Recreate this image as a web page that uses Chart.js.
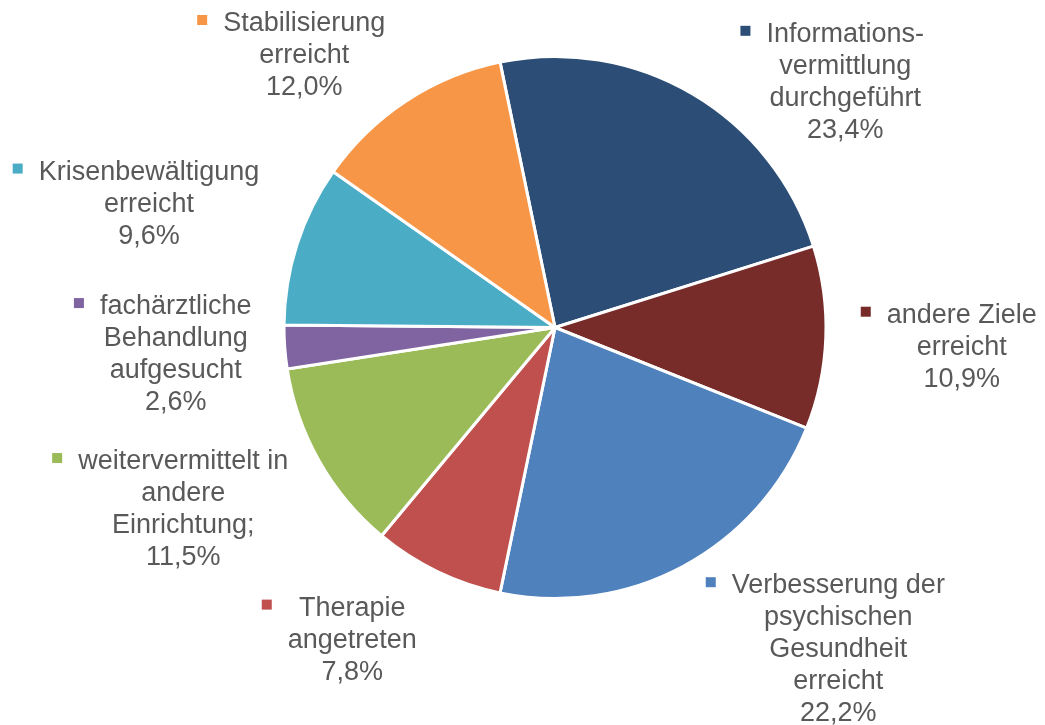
<!DOCTYPE html>
<html lang="de">
<head>
<meta charset="utf-8">
<title>Zielerreichung</title>
<script src="https://cdn.jsdelivr.net/npm/chart.js@4.4.1/dist/chart.umd.min.js"></script>
<style>
  html, body { margin: 0; padding: 0; background: #fff; }
  #wrap { width: 1045px; height: 725px; position: relative; }
</style>
</head>
<body>
<div id="wrap"><canvas id="pieChart"></canvas></div>
<script>
(function () {
  "use strict";

  // categories (already wrapped the way the original labels are)
  var categories = [
    ["Informations-", "vermittlung", "durchgeführt"],
    ["andere Ziele", "erreicht"],
    ["Verbesserung der", "psychischen", "Gesundheit", "erreicht"],
    ["Therapie", "angetreten"],
    ["weitervermittelt in", "andere", "Einrichtung;"],
    ["fachärztliche", "Behandlung", "aufgesucht"],
    ["Krisenbewältigung", "erreicht"],
    ["Stabilisierung", "erreicht"]
  ];
  var shares = [23.4, 10.9, 22.2, 7.8, 11.5, 2.6, 9.6, 12.0];
  var colors = ["#2c4d75", "#772c2a", "#4f81bd", "#c0504d", "#9bbb59", "#8064a2", "#4bacc6", "#f79646"];

  function pct(v) {
    return v.toFixed(1).replace(".", ",") + "%";
  }

  // text block: centre x / first baseline, relative to the slice's outer edge midpoint;
  // legend key sits left of the widest line, level with the first line
  var sliceLabels = {
    id: "sliceLabels",
    afterDatasetsDraw: function (chart, args, opts) {
      var ctx = chart.ctx;
      var meta = chart.getDatasetMeta(0);
      var ds = chart.data.datasets[0];
      ctx.save();
      ctx.font = opts.font;
      ctx.textBaseline = "alphabetic";
      ctx.textAlign = "center";
      meta.data.forEach(function (arc, i) {
        var p = arc.getProps(["x", "y", "startAngle", "endAngle", "outerRadius"], true);
        var mid = (p.startAngle + p.endAngle) / 2;
        var ex = p.x + Math.cos(mid) * p.outerRadius;
        var ey = p.y + Math.sin(mid) * p.outerRadius;
        var off = opts.offsets[i];
        var cx = ex + off[0];
        var by = ey + off[1];
        var lines = chart.data.labels[i].concat([pct(ds.data[i])]);
        var maxW = 0;
        lines.forEach(function (line) {
          maxW = Math.max(maxW, ctx.measureText(line).width);
        });
        ctx.fillStyle = ds.backgroundColor[i];
        ctx.fillRect(cx - maxW / 2 - opts.gap - opts.box, by - 16, opts.box, opts.box);
        ctx.fillStyle = opts.color;
        lines.forEach(function (line, j) {
          ctx.fillText(line, cx, by + j * opts.lineHeight);
        });
      });
      ctx.restore();
    }
  };

  new Chart(document.getElementById("pieChart"), {
    type: "pie",
    data: {
      labels: categories,
      datasets: [{
        data: shares,
        backgroundColor: colors,
        borderColor: "#ffffff",
        borderWidth: 3
      }]
    },
    options: {
      responsive: true,
      maintainAspectRatio: false,
      animation: false,
      rotation: -11.7,
      layout: { padding: { left: 250, right: 185, top: 55, bottom: 125 } },
      plugins: {
        legend: { display: false },
        tooltip: { enabled: false },
        sliceLabels: {
          font: '27px "Liberation Sans", Arial, sans-serif',
          color: "#595959",
          lineHeight: 32,
          box: 10,
          gap: 16,
          offsets: [
            [153, -52], [136, -15], [155, 27], [-85, 44],
            [-136, 8], [-109, -33], [-148, -65], [-102, -70]
          ]
        }
      }
    },
    plugins: [sliceLabels]
  });
})();
</script>
</body>
</html>
